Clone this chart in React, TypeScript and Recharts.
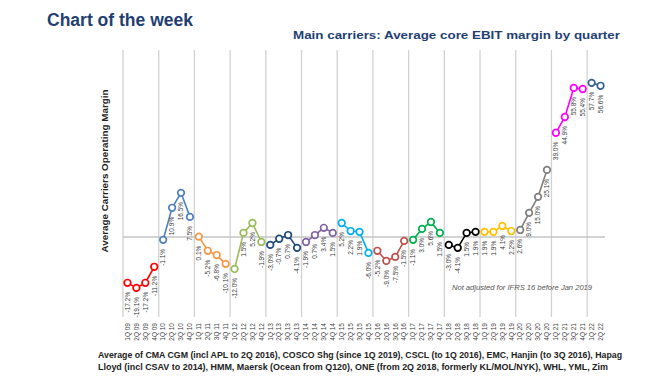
import { LineChart, Line, XAxis, YAxis, ReferenceLine, LabelList } from "recharts"

// one entry per year, 2009 .. 2022 (2022 only has two quarters)
const years = ["09", "10", "11", "12", "13", "14", "15", "16", "17", "18", "19", "20", "21", "22"]
const yearColors = [
  "#ff0000", "#4f81bd", "#f79646", "#9bbb59", "#1f497d", "#8064a2", "#00b0f0",
  "#c0504d", "#00b050", "#000000", "#ffc000", "#7f7f7f", "#ff00ff", "#376092",
]

// average core EBIT margin, % per quarter
const margins = [
  -17.2, -19.1, -17.2, -11.2, // 2009
  -1.1, 10.9, 16.5, 7.5, // 2010
  0.1, -5.2, -6.8, -10.1, // 2011
  -12.0, 1.5, 5.2, -1.9, // 2012
  -3.0, -0.7, 0.7, -4.1, // 2013
  -1.9, 0.7, 3.4, 1.5, // 2014
  5.2, 2.2, 1.9, -6.0, // 2015
  -5.2, -9.0, -7.5, -1.5, // 2016
  -1.1, 3.0, 5.6, 1.5, // 2017
  -3.0, -4.1, 1.5, 1.9, // 2018
  1.9, 1.9, 4.1, 2.2, // 2019
  2.6, 9.0, 15.0, 25.1, // 2020
  39.0, 44.9, 55.8, 55.4, // 2021
  57.7, 56.6, // 2022
]

const quarterLabels = years
  .flatMap((y) => ["1Q", "2Q", "3Q", "4Q"].map((q) => `${q} ${y}`))
  .slice(0, margins.length)

const data = margins.map((v, i) => {
  const row: any = { pos: i + 0.5, label: quarterLabels[i] }
  row["y" + Math.floor(i / 4)] = v
  return row
})

const yearStarts = years.map((_, i) => i * 4)

function QuarterTick(props: any) {
  const { x, y, payload } = props
  const ty = y - 2
  return (
    <text
      x={x}
      y={ty}
      transform={`rotate(-90, ${x}, ${ty})`}
      textAnchor="end"
      dy="0.35em"
      fontSize={6.5}
      fill="#444"
    >
      {quarterLabels[Math.floor(payload.value)]}
    </text>
  )
}

const renderValue = (props: any) => {
  const { value } = props
  if (value === null || value === undefined) return null
  const vb = props.viewBox || {}
  const x = props.x ?? vb.x
  const y = props.y ?? vb.y
  const ty = y + 9
  return (
    <text
      x={x}
      y={ty}
      transform={`rotate(-90, ${x}, ${ty})`}
      textAnchor="end"
      dy="0.35em"
      fontSize={6.5}
      fill="#3a3a3a"
    >
      {Number(value).toFixed(1)}%
    </text>
  )
}

export default function App() {
  const font = "'Liberation Sans', Arial, sans-serif"
  return (
    <div style={{ position: "relative", width: 670, height: 380, margin: -8, background: "#fff" }}>
      <LineChart
        width={670}
        height={380}
        data={data}
        margin={{ top: 50, right: 65, bottom: 33, left: 123 }}
        style={{ fontFamily: font }}
      >
        <XAxis
          dataKey="pos"
          type="number"
          domain={[0, 54]}
          ticks={data.map((d) => d.pos)}
          interval={0}
          axisLine={false}
          tickLine={false}
          tick={<QuarterTick />}
          height={30}
        />
        <YAxis hide type="number" domain={[-30, 70]} allowDataOverflow />
        {yearStarts.map((s) => (
          <ReferenceLine key={s} x={s} stroke="#d2d2d2" strokeWidth={1.3} />
        ))}
        <ReferenceLine y={0} stroke="#c4c4c4" strokeWidth={1.5} />
        {years.map((y, i) => (
          <Line
            key={y}
            dataKey={"y" + i}
            stroke={yearColors[i]}
            strokeWidth={1.6}
            dot={{ r: 3.3, strokeWidth: 1.7, fill: "#fff", stroke: yearColors[i] }}
            connectNulls={false}
            isAnimationActive={false}
          >
            <LabelList dataKey={"y" + i} content={renderValue} />
          </Line>
        ))}
      </LineChart>
      <svg
        width={670}
        height={380}
        style={{ position: "absolute", left: 0, top: 0, pointerEvents: "none", fontFamily: font }}
      >
        <text x={47} y={26} fontSize={18} fontWeight="bold" fill="#1f3f73" textLength={146} lengthAdjust="spacingAndGlyphs">
          Chart of the week
        </text>
        <text x={293} y={39} fontSize={10.5} fontWeight="bold" fill="#1f3f73" textLength={327} lengthAdjust="spacingAndGlyphs">
          Main carriers: Average core EBIT margin by quarter
        </text>
        <text
          x={108}
          y={171}
          transform="rotate(-90, 108, 171)"
          textAnchor="middle"
          fontSize={8.5}
          fontWeight="bold"
          fill="#222"
          textLength={163}
          lengthAdjust="spacingAndGlyphs"
        >
          Average Carriers Operating Margin
        </text>
        <text x={452} y={290} fontSize={6.5} fontStyle="italic" fill="#555" textLength={140} lengthAdjust="spacingAndGlyphs">
          Not adjusted for IFRS 16 before Jan 2019
        </text>
        <text x={98} y={358} fontSize={8.5} fontWeight="bold" fill="#222" textLength={524} lengthAdjust="spacingAndGlyphs">
          Average of CMA CGM (incl APL to 2Q 2016), COSCO Shg (since 1Q 2019), CSCL (to 1Q 2016), EMC, Hanjin (to 3Q 2016), Hapag
        </text>
        <text x={98} y={370} fontSize={8.5} fontWeight="bold" fill="#222" textLength={510} lengthAdjust="spacingAndGlyphs">
          Lloyd (incl CSAV to 2014), HMM, Maersk (Ocean from Q120), ONE (from 2Q 2018, formerly KL/MOL/NYK), WHL, YML, Zim
        </text>
      </svg>
    </div>
  )
}
